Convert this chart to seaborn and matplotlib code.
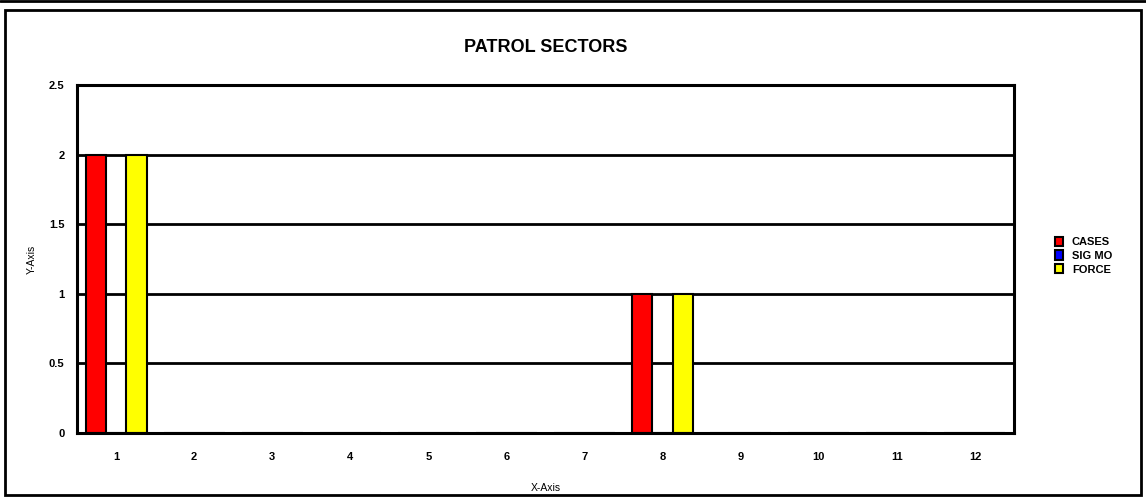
import matplotlib.pyplot as plt
import pandas as pd
import seaborn as sns
from matplotlib.patches import Rectangle
from matplotlib.lines import Line2D

sectors = [str(i) for i in range(1, 13)]
series_names = ["CASES", "SIG MO", "FORCE"]
cases = [2, 0, 0, 0, 0, 0, 0, 1, 0, 0, 0, 0]
sig_mo = [0, 0, 0, 0, 0, 0, 0, 0, 0, 0, 0, 0]
force = [2, 0, 0, 0, 0, 0, 0, 1, 0, 0, 0, 0]
y_ticks = [0, 0.5, 1, 1.5, 2, 2.5]
colors = ["#ff0000", "#0000ff", "#ffff00"]

df = pd.DataFrame({
    "sector": sectors * 3,
    "series": [s for s in series_names for _ in sectors],
    "value": cases + sig_mo + force,
})

sns.set_style("white")
plt.rcParams["font.family"] = ["Liberation Sans", "DejaVu Sans"]
plt.rcParams["text.color"] = "black"
plt.rcParams["axes.labelcolor"] = "black"
plt.rcParams["xtick.color"] = "black"
plt.rcParams["ytick.color"] = "black"

fig = plt.figure(figsize=(11.46, 4.98), dpi=100)
ax = fig.add_axes([0.0672, 0.1305, 0.8176, 0.6988])

sns.barplot(data=df, x="sector", y="value", hue="series", order=sectors,
            hue_order=series_names, palette=colors, width=0.78,
            edgecolor="black", linewidth=1.5, saturation=1, ax=ax, legend=False)

ax.set_ylim(0, 2.5)
ax.set_xlim(-0.5, len(sectors) - 0.5)
ax.set_yticks(y_ticks)
ax.set_yticklabels(["0", "0.5", "1", "1.5", "2", "2.5"], fontweight="bold", fontsize=8)
ax.set_xticklabels(sectors, fontweight="bold", fontsize=8)
ax.tick_params(axis="both", length=0)
ax.tick_params(axis="x", pad=14)
ax.tick_params(axis="y", pad=9)
for y in y_ticks[1:-1]:
    ax.axhline(y, color="black", linewidth=2, zorder=0)
for spine in ax.spines.values():
    spine.set_visible(True)
    spine.set_color("black")
    spine.set_linewidth(2.2)

ax.set_xlabel("X-Axis", fontsize=7.5)
ax.xaxis.set_label_coords(0.5, -0.145)
ax.set_ylabel("Y-Axis", fontsize=7.5)
ax.yaxis.set_label_coords(-0.043, 0.5)
ax.set_title("PATROL SECTORS", fontsize=13, fontweight="bold", pad=24)

handles = [Rectangle((0, 0), 1, 1, facecolor=c, edgecolor="black", linewidth=1.5)
           for c in colors]
leg = fig.legend(handles, series_names, loc="upper left",
                 bbox_to_anchor=(0.912, 0.545), frameon=False,
                 prop={"weight": "bold", "size": 8},
                 handlelength=0.7, handleheight=0.9, handletextpad=0.8,
                 labelspacing=0.3)

# outer frame and top rule
fig.patches.append(Rectangle((5 / 1146, 3 / 498), 1136 / 1146, 485 / 498,
                             transform=fig.transFigure, fill=False,
                             edgecolor="black", linewidth=2))
fig.lines.append(Line2D([0, 1], [0.998, 0.998], transform=fig.transFigure,
                        color="black", linewidth=2))

fig.savefig("out.png", dpi=100)
